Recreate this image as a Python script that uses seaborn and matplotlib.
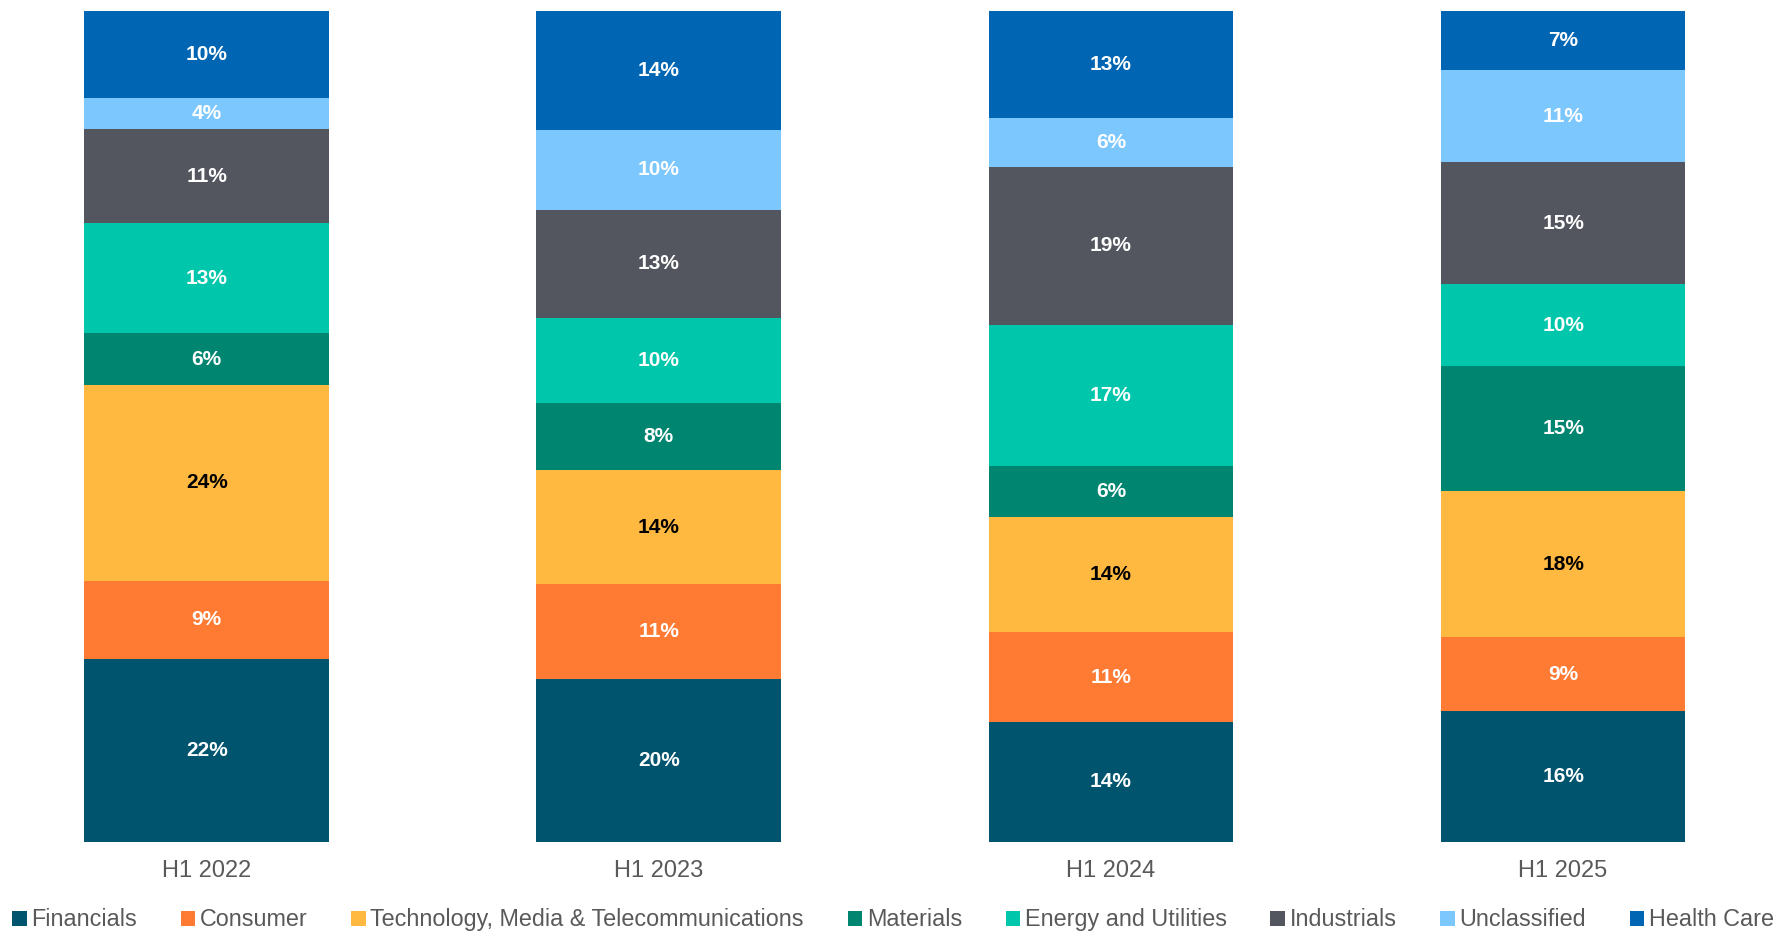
import numpy as np
import pandas as pd
import seaborn as sns
import matplotlib.pyplot as plt
from matplotlib.patches import Patch

periods = ['H1 2022', 'H1 2023', 'H1 2024', 'H1 2025']
sectors = ['Financials', 'Consumer', 'Technology, Media & Telecommunications', 'Materials',
           'Energy and Utilities', 'Industrials', 'Unclassified', 'Health Care']

# share of each sector per period, bottom to top (%)
financials = [22.0, 19.6, 14.4, 15.7]
consumer = [9.4, 11.4, 10.8, 8.9]
tmt = [23.6, 13.7, 13.9, 17.6]
materials = [6.2, 8.1, 6.2, 15.1]
energy = [13.3, 10.3, 16.9, 9.8]
industrials = [11.3, 13.0, 19.1, 14.7]
unclassified = [3.8, 9.6, 5.9, 11.1]
health_care = [10.4, 14.3, 12.8, 7.1]

colors = ['#00546E', '#FF7A33', '#FFB840', '#008570', '#00C7AB', '#53565F', '#7DC7FF', '#0066B3']
label_colors = ['white', 'white', 'black', 'white', 'white', 'white', 'white', 'white']

df = pd.DataFrame({'Period': periods,
                   'Financials': financials, 'Consumer': consumer,
                   'Technology, Media & Telecommunications': tmt, 'Materials': materials,
                   'Energy and Utilities': energy, 'Industrials': industrials,
                   'Unclassified': unclassified, 'Health Care': health_care})

cum = df[sectors].cumsum(axis=1)

sns.set_style('white')
plt.rcParams['font.family'] = ['Liberation Sans', 'DejaVu Sans']

fig = plt.figure(figsize=(17.86, 9.4), dpi=100)
ax = fig.add_axes([0, 0.1046, 1, 0.8834])

# stacked bars: draw cumulative totals from the top layer down
for i in range(len(sectors) - 1, -1, -1):
    sns.barplot(x=df['Period'], y=cum[sectors[i]], color=colors[i], saturation=1,
                width=0.541, linewidth=0, edgecolor='none', ax=ax, order=periods)

for i, s in enumerate(sectors):
    for j in range(len(periods)):
        v = df[s][j]
        mid = cum[s][j] - v / 2
        ax.text(j, mid, f'{round(v):.0f}%', ha='center', va='center',
                fontsize=15, fontweight='bold', color=label_colors[i])

ax.set_xlim(-0.457, 3.493)
ax.set_ylim(0, 100)
ax.set_xlabel('')
ax.set_ylabel('')
ax.set_yticks([])
ax.tick_params(axis='x', length=0, pad=13.5, labelsize=17, labelcolor='#595959')
sns.despine(ax=ax, left=True, bottom=True, top=True, right=True)

handles = [Patch(facecolor=c, edgecolor='none') for c in colors]
fig.legend(handles, sectors, loc='center', bbox_to_anchor=(0.5, 0.0215), ncol=8,
           frameon=False, fontsize=16.8, handlelength=0.62, handleheight=0.62,
           handletextpad=0.2, columnspacing=1.87, labelcolor='#595959', borderaxespad=0)

fig.savefig('out.png', dpi=100)
